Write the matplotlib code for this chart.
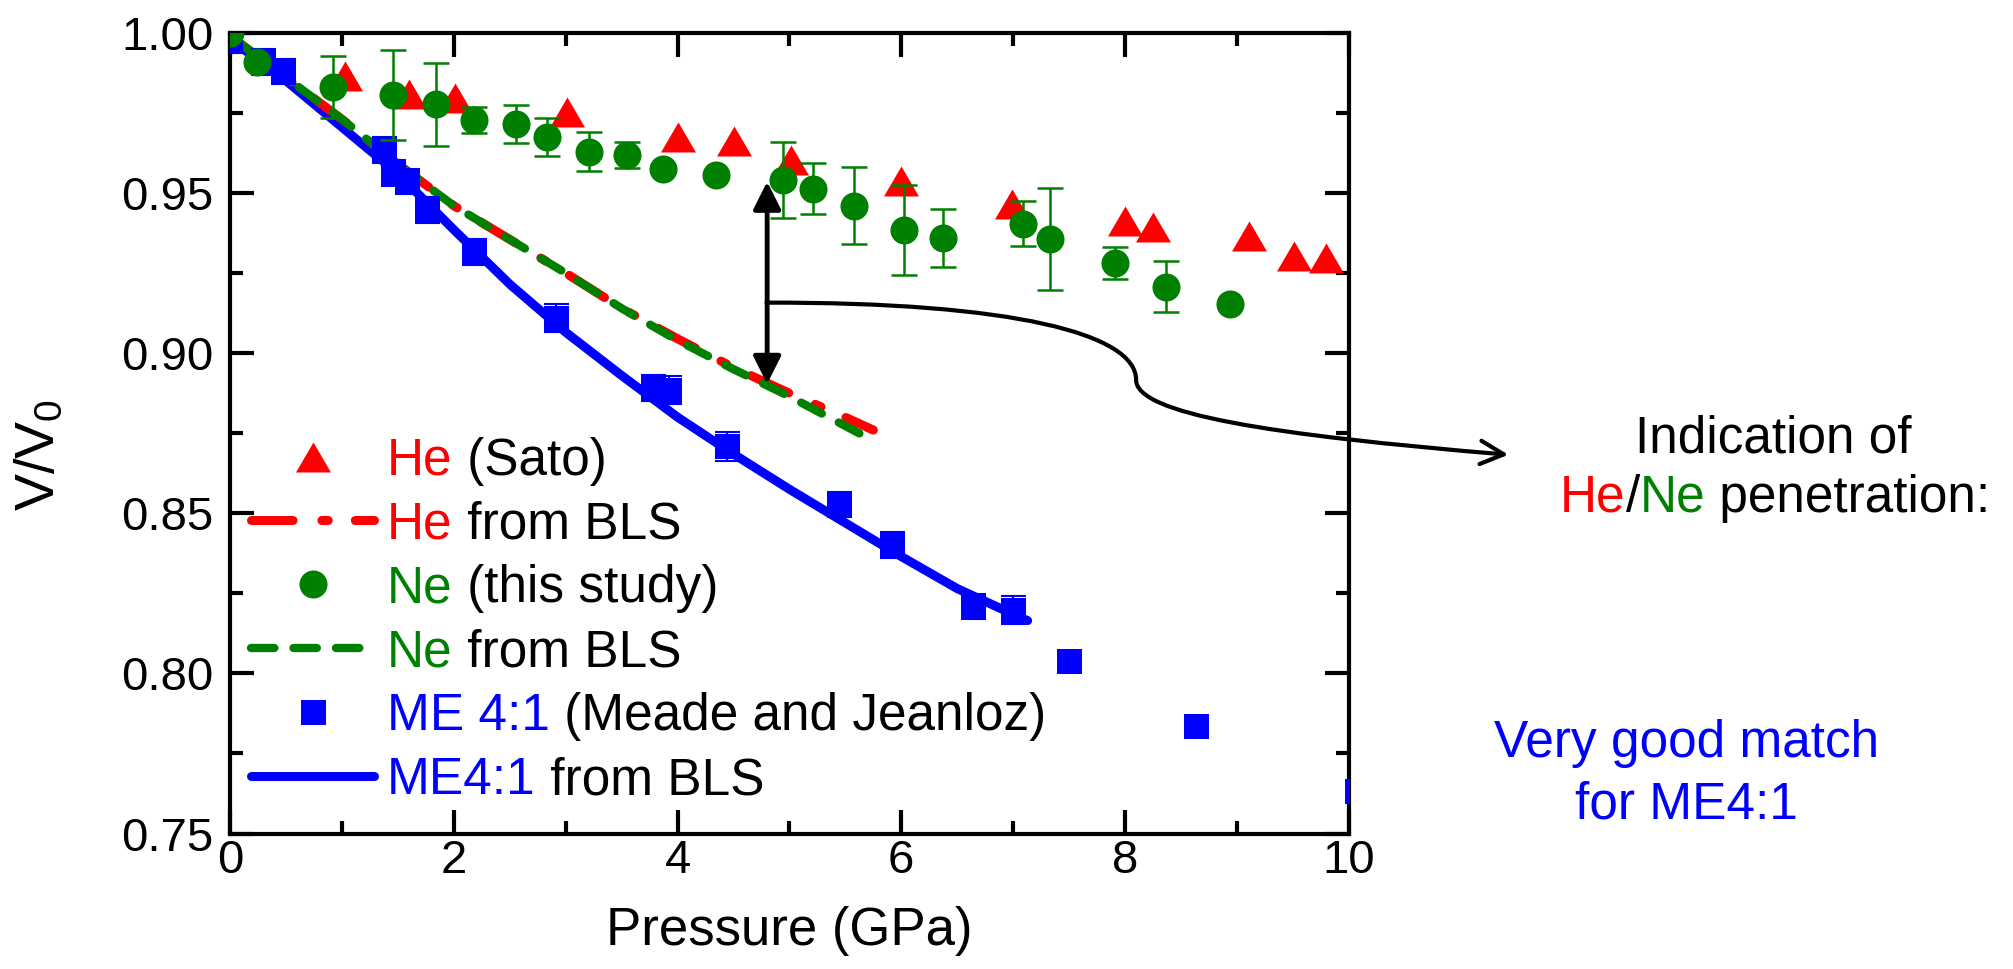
import matplotlib
matplotlib.use('Agg')
import matplotlib.pyplot as plt
from matplotlib.path import Path
from matplotlib.patches import FancyArrowPatch
from matplotlib.text import Annotation
from matplotlib.ticker import MultipleLocator, FormatStrFormatter

plt.rcParams['font.family'] = ['Liberation Sans', 'DejaVu Sans']
plt.rcParams['mathtext.fontset'] = 'custom'
plt.rcParams['mathtext.rm'] = 'Liberation Sans'
plt.rcParams['mathtext.it'] = 'Liberation Sans:italic'

RED = '#ff0000'
GREEN = '#008000'
BLUE = '#0000ff'

# He (Sato)
he_p = [1.02, 1.60, 2.01, 3.01, 4.00, 4.50, 5.01, 6.00, 6.99, 8.00, 8.25, 9.11, 9.51, 9.80]
he_v = [0.9867, 0.9810, 0.9796, 0.9752, 0.9674, 0.9662, 0.9605, 0.9537, 0.9467,
        0.9414, 0.9395, 0.9367, 0.9303, 0.9299]

# He from BLS
he_bls_p = [0.0, 0.5, 1.0, 1.5, 2.0, 2.5, 3.0, 3.5, 4.0, 4.5, 5.0, 5.5, 5.75]
he_bls_v = [0.999, 0.986, 0.973, 0.959, 0.946, 0.9355, 0.925, 0.914, 0.9045,
            0.8955, 0.8875, 0.880, 0.876]

# Ne (this study)
ne_p = [0.0, 0.24, 0.92, 1.45, 1.84, 2.18, 2.55, 2.83, 3.21, 3.55, 3.87, 4.34,
        4.94, 5.21, 5.58, 6.02, 6.37, 7.09, 7.33, 7.91, 8.37, 8.94]
ne_v = [1.000, 0.991, 0.9832, 0.9806, 0.9778, 0.9728, 0.9716, 0.9676, 0.9630,
        0.9619, 0.9576, 0.9557, 0.9541, 0.9514, 0.9461, 0.9385, 0.9359, 0.9404,
        0.9356, 0.9281, 0.9208, 0.9153]
ne_err = [0, 0, 0.0097, 0.014, 0.013, 0.004, 0.006, 0.006, 0.006, 0.004, 0, 0,
          0.012, 0.008, 0.012, 0.014, 0.009, 0.007, 0.016, 0.005, 0.008, 0]

# Ne from BLS
ne_bls_p = [0.0, 0.5, 1.0, 1.5, 2.0, 2.5, 3.0, 3.5, 4.0, 4.5, 5.0, 5.65]
ne_bls_v = [0.999, 0.986, 0.973, 0.959, 0.946, 0.9355, 0.925, 0.914, 0.904,
            0.895, 0.8865, 0.8745]

# ME 4:1 (Meade and Jeanloz)
me_p = [0.0, 0.29, 0.47, 1.37, 1.45, 1.58, 1.76, 2.18, 2.91, 3.78, 3.92, 4.44,
        5.44, 5.92, 6.64, 7.00, 7.50, 8.64, 10.08]
me_v = [0.9977, 0.991, 0.988, 0.9635, 0.9563, 0.9536, 0.9448, 0.9317, 0.911,
        0.8891, 0.8886, 0.8709, 0.8527, 0.8402, 0.8209, 0.8199, 0.8038, 0.7835, 0.7633]
me_err = [0.004, 0.004, 0.004, 0.004, 0.004, 0.004, 0.004, 0.004, 0.0044, 0.004,
          0.0044, 0.0044, 0.004, 0.004, 0.004, 0.0044, 0, 0, 0]

# ME4:1 from BLS
me_bls_p = [0.0, 0.5, 1.0, 1.5, 2.0, 2.5, 3.0, 3.5, 4.0, 4.5, 5.0, 5.5, 6.0, 6.5, 7.0, 7.13]
me_bls_v = [0.998, 0.985, 0.9705, 0.956, 0.9385, 0.9215, 0.9065, 0.893, 0.880,
            0.8685, 0.8575, 0.847, 0.8365, 0.8265, 0.8185, 0.8165]

fig = plt.figure(figsize=(20.13, 9.69), dpi=100)
ax = fig.add_axes([0.1145, 0.1398, 0.5554, 0.8261])

h_me_line, = ax.plot(me_bls_p, me_bls_v, color=BLUE, lw=6.5, solid_capstyle='round', zorder=2)
h_he_line, = ax.plot(he_bls_p, he_bls_v, color=RED, lw=6.5, dashes=(4.6, 3.2, 0.7, 3.0),
                     dash_capstyle='round', zorder=2.1)
h_ne_line, = ax.plot(ne_bls_p, ne_bls_v, color=GREEN, lw=6, dashes=(2.8, 2.3),
                     dash_capstyle='round', zorder=2.2)

ax.errorbar(me_p, me_v, yerr=me_err, fmt='none', ecolor=BLUE, elinewidth=1.5,
            capsize=9, capthick=1.5, zorder=3)
h_me, = ax.plot(me_p, me_v, ls='none', marker='s', ms=18, mew=0, color=BLUE, zorder=3.1)

tri = [(-1, -0.857), (1, -0.857), (0, 0.857)]
h_he, = ax.plot(he_p, he_v, ls='none', marker=tri, ms=25.2, mew=0, color=RED, zorder=3.5)

ax.errorbar(ne_p, ne_v, yerr=ne_err, fmt='none', ecolor=GREEN, elinewidth=1.8,
            capsize=9.7, capthick=1.8, zorder=4)
h_ne, = ax.plot(ne_p, ne_v, ls='none', marker='o', ms=20.2, mew=0, color=GREEN, zorder=4.1)

ax.set_xlim(0, 10)
ax.set_ylim(0.75, 1.00)
ax.xaxis.set_major_locator(MultipleLocator(2))
ax.xaxis.set_minor_locator(MultipleLocator(1))
ax.yaxis.set_major_locator(MultipleLocator(0.05))
ax.yaxis.set_minor_locator(MultipleLocator(0.025))
ax.yaxis.set_major_formatter(FormatStrFormatter('%.2f'))
for s in ax.spines.values():
    s.set_linewidth(3)
ax.tick_params(which='both', direction='in', top=True, right=True, width=3)
ax.tick_params(which='major', length=17)
ax.tick_params(which='minor', length=9.4)
ax.tick_params(axis='x', which='major', labelsize=34, pad=4)
ax.tick_params(axis='y', which='major', labelsize=34, pad=12)

ax.set_xlabel('Pressure (GPa)', fontsize=38)
ax.xaxis.set_label_coords(0.5, -0.09)
ax.set_ylabel('V/V$_0$', fontsize=40)
ax.yaxis.set_label_coords(-0.147, 0.473)

# legend: coloured gas name + black remainder
handles = [h_he, h_he_line, h_ne, h_ne_line, h_me, h_me_line]
labels = ['He', 'He', 'Ne', 'Ne', 'ME 4:1', 'ME4:1']
rests = [' (Sato)', ' from BLS', ' (this study)', ' from BLS', ' (Meade and Jeanloz)', ' from BLS']
colors = [RED, RED, GREEN, GREEN, BLUE, BLUE]
leg = ax.legend(handles, labels, loc='upper left', bbox_to_anchor=(0.0, 0.5216),
                borderaxespad=0, frameon=False, fontsize=37, handlelength=2.4,
                handletextpad=0.25, labelspacing=0.29, borderpad=0.4, numpoints=1)
for t, c, r in zip(leg.get_texts(), colors, rests):
    t.set_color(c)
    ax.annotate(r, xy=(1, 0), xycoords=t, ha='left', va='bottom', fontsize=37,
                color='k', zorder=7)

# double arrow between measured data and BLS curve
ax.annotate('', xy=(4.8, 0.9536), xytext=(4.8, 0.8904),
            arrowprops=dict(arrowstyle='<|-|>,head_length=0.4,head_width=0.2', color='k',
                            lw=3.5, mutation_scale=42, shrinkA=0, shrinkB=0))

# curly connector to the note on the right
verts = [(4.795, 0.9158), (7.0, 0.9160), (8.10, 0.9060), (8.10, 0.8917),
         (8.10, 0.881), (9.3, 0.8745), (11.43, 0.8683)]
codes = [Path.MOVETO] + [Path.CURVE4] * 6
conn = FancyArrowPatch(path=Path(verts, codes), arrowstyle='->,head_length=0.4,head_width=0.2',
                       mutation_scale=42, lw=3, color='k', transform=ax.transData,
                       clip_on=False, zorder=6)
ax.add_patch(conn)

fig.text(0.8808, 0.5335, 'Indication of', fontsize=37, ha='center', va='baseline')
last = fig.text(0.775, 0.4719, 'He', fontsize=37, color=RED, ha='left', va='baseline')
for s, c in [('/', 'k'), ('Ne', GREEN), (' penetration:', 'k')]:
    last = fig.add_artist(Annotation(s, xy=(1, 0), xycoords=last, ha='left', va='bottom',
                                     fontsize=37, color=c))

fig.text(0.8376, 0.2191, 'Very good match', fontsize=37, color=BLUE, ha='center', va='baseline')
fig.text(0.8376, 0.1555, 'for ME4:1', fontsize=37, color=BLUE, ha='center', va='baseline')

fig.savefig('out.png', dpi=100)
